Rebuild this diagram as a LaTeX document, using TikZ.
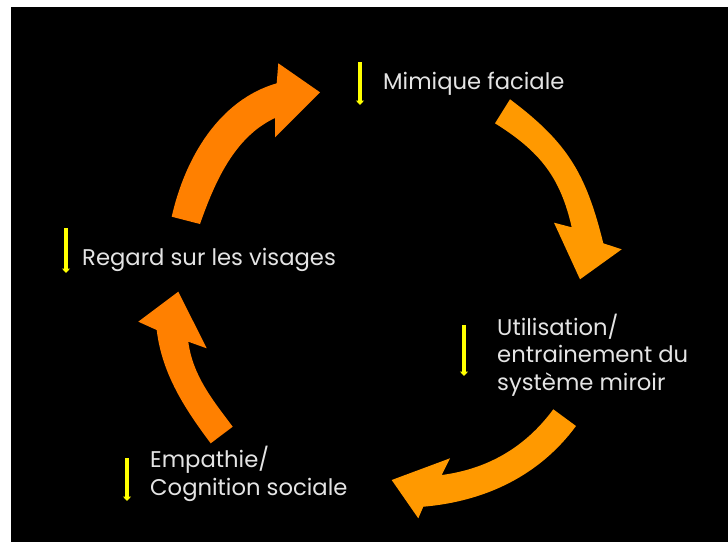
\documentclass[tikz,border=0pt]{standalone}
\usepackage{fontspec}
\setmainfont{Poppins}
\usetikzlibrary{arrows.meta}
\definecolor{darkorange}{RGB}{255,128,0}
\definecolor{lightorange}{RGB}{255,153,0}
\definecolor{txtgray}{RGB}{228,228,228}
\definecolor{yel}{RGB}{255,255,0}
\tikzset{
  arrowA/.style={fill=darkorange},
  arrowB/.style={fill=lightorange},
  label/.style={text=txtgray, inner sep=0pt, anchor=base west, align=left,
    font=\fontsize{22.7}{27.5}\selectfont},
  yarrow/.style={draw=yel, line width=3.2pt, -{Triangle[width=8pt,length=4.5pt]}}
}
\begin{document}
\begin{tikzpicture}[x=1pt,y=-1pt]
\useasboundingbox (0,0) rectangle (728,542);
\fill[white] (0,0) rectangle (728,542);
\fill[black] (11,7) rectangle (728,542);

% arrow 1 : Regard -> Mimique
\path[arrowA] (171.7,216.7) -- (200,224)
  .. controls (214.9,181.7) and (234.5,136.9) .. (275,118)
  -- (275,137.3) -- (320,92.3) -- (278.3,63.3) -- (276.7,83.3)
  .. controls (219,100) and (185,158) .. (171.7,216.7)
  -- cycle;

% arrow 2 : Mimique -> Utilisation
\path[arrowB] (510,99.3)
  .. controls (567.6,142.5) and (586,173.5) .. (603.3,243.3)
  -- (621.7,249.3) -- (580,279.3) -- (554,222.7) -- (571.7,227.3)
  .. controls (560.3,176.6) and (539.2,150.9) .. (495,123.3)
  -- cycle;

% arrow 3 : Utilisation -> Empathie
\path[arrowB] (553.3,409.3) -- (576,426)
  .. controls (539.4,475.6) and (485.3,501.4) .. (423.3,506.7)
  -- (418.3,518.3) -- (391.7,480) -- (450,458.3) -- (441.7,475)
  .. controls (488.2,468.9) and (525.6,446.9) .. (553.3,409.3)
  -- cycle;

% arrow 4 : Empathie -> Regard
\path[arrowA] (232.7,426.7) -- (210.7,443.3)
  .. controls (184.3,408.1) and (162,373.6) .. (156.7,330)
  -- (138.3,321.7) -- (178.3,291.7) -- (206.7,348.3) -- (188.3,341.7)
  .. controls (192.7,375.4) and (212.3,399.5) .. (232.7,426.7)
  -- cycle;

% labels
\node[label] (mim) at (383,89.3) {Mimique faciale};
\node[label] (reg) at (82,265) {Regard sur les visages};
\node[label] (uti) at (497,390) {Utilisation/\\entrainement du\\système miroir};
\node[label] (emp) at (150,495) {Empathie/\\Cognition sociale};

% small yellow arrows
\coordinate (ym1) at (360,62);   \coordinate (ym2) at (360,105);
\coordinate (yr1) at (66,228);   \coordinate (yr2) at (66,273);
\coordinate (yu1) at (464,325);  \coordinate (yu2) at (464,376);
\coordinate (ye1) at (127,458);  \coordinate (ye2) at (127,501);
\draw[yarrow] (ym1) -- (ym2);
\draw[yarrow] (yr1) -- (yr2);
\draw[yarrow] (yu1) -- (yu2);
\draw[yarrow] (ye1) -- (ye2);
\end{tikzpicture}
\end{document}
